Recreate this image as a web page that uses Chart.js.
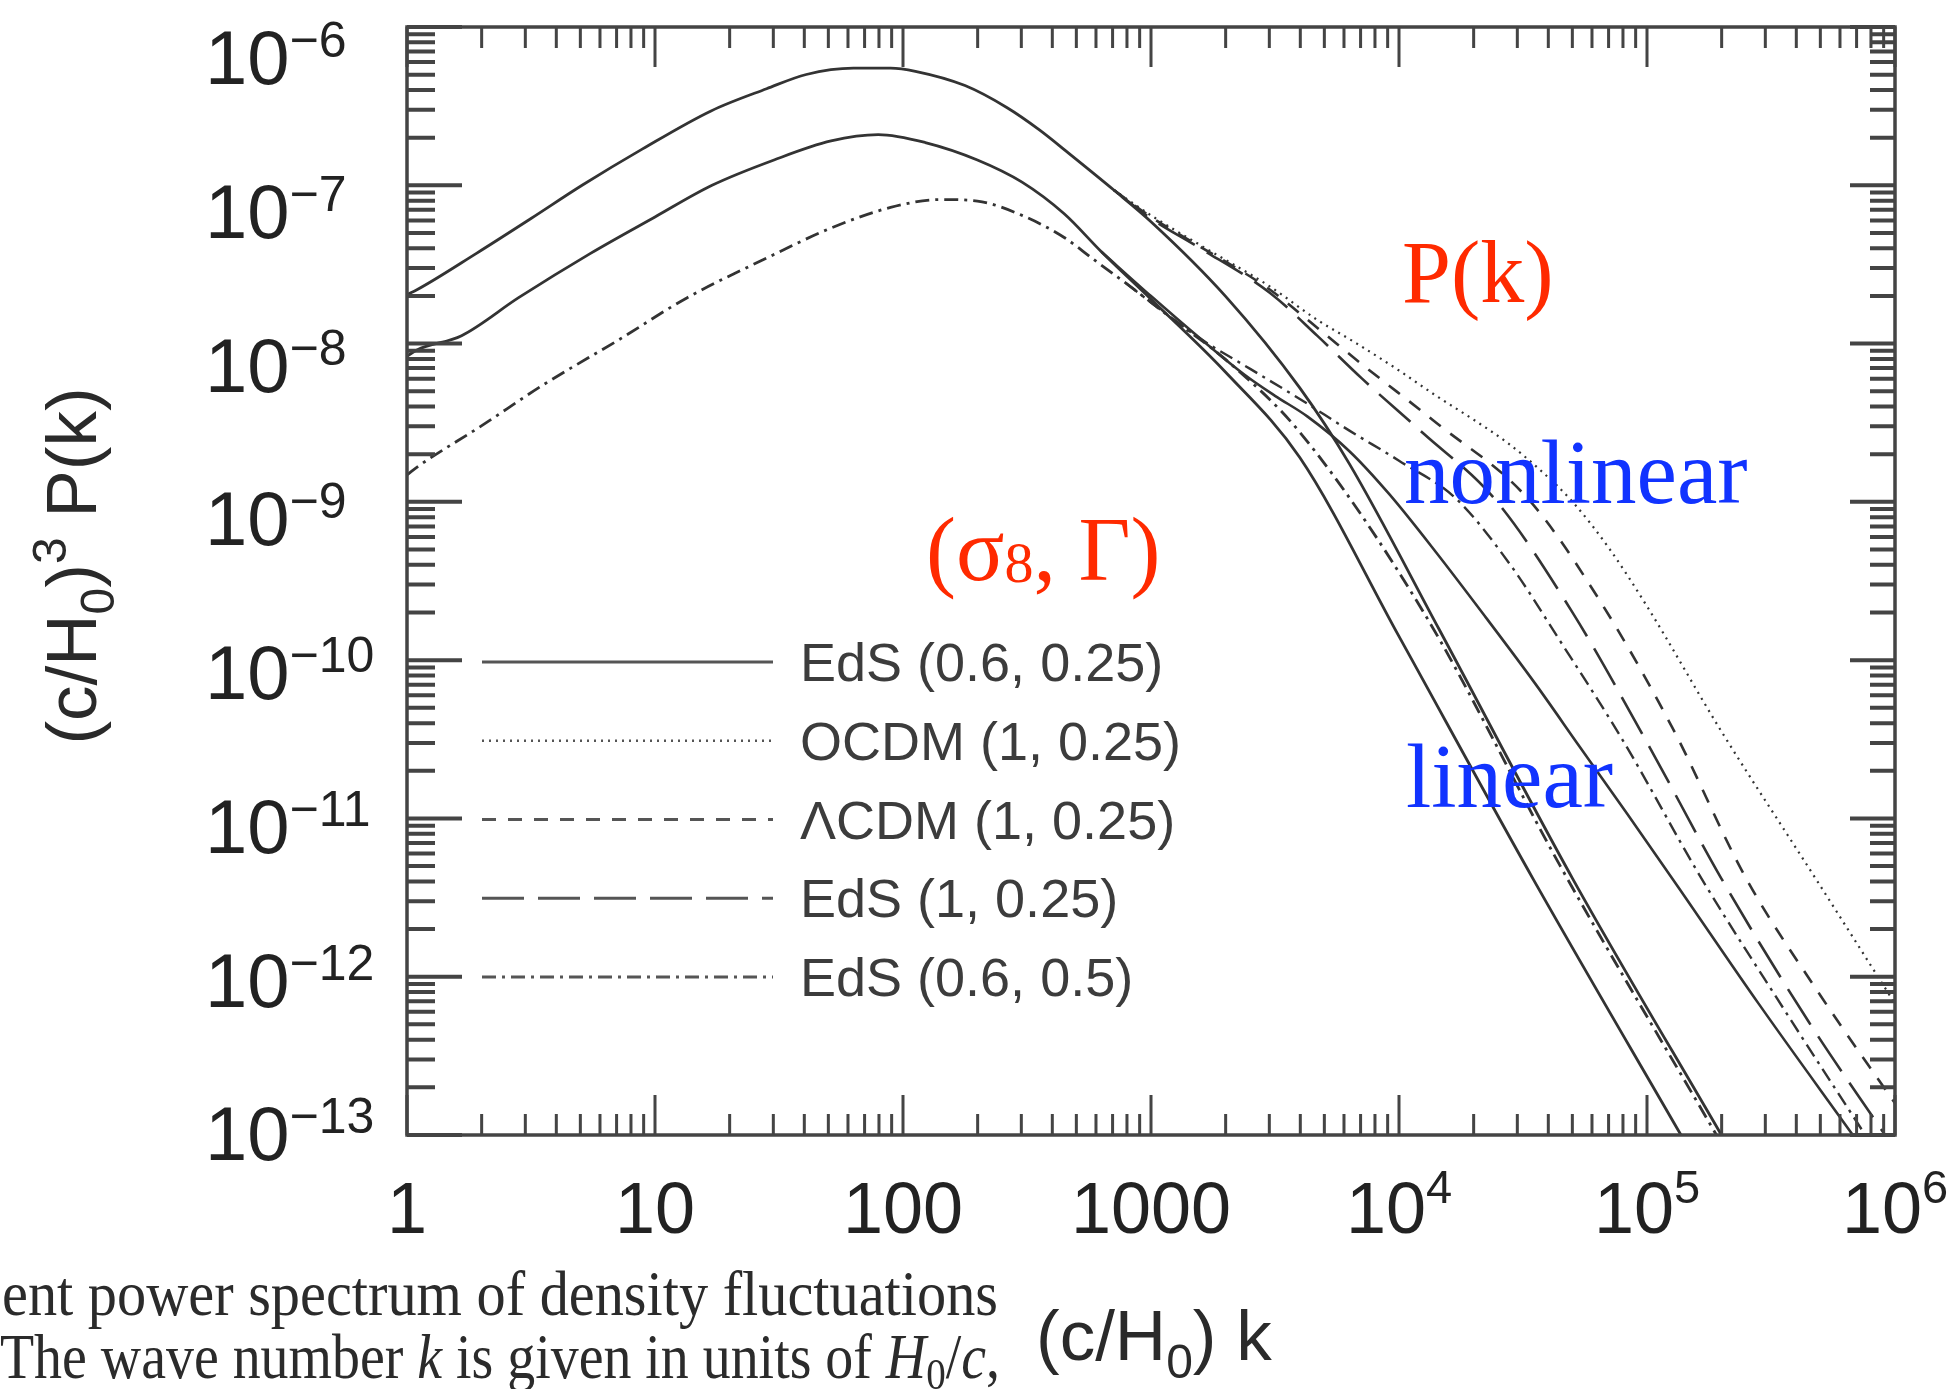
<!DOCTYPE html>
<html>
<head>
<meta charset="utf-8">
<title>Power spectrum P(k)</title>
<script src="https://cdn.jsdelivr.net/npm/chart.js@4.4.1/dist/chart.umd.min.js"></script>
<style>
  html, body { margin: 0; padding: 0; background: #fff; }
  #wrap { position: relative; width: 1949px; height: 1389px; }
</style>
</head>
<body>
<div id="wrap"><canvas id="pk"></canvas></div>
<script>
/* Values: log10 of (c/H0) k and log10 of (c/H0)^3 P(k) */

// linear spectra
// sigma8 = 1, Gamma = 0.25 (OCDM, LCDM and EdS share it)
const kLinS1 = [0, 0.04, 0.28, 0.5, 0.706, 0.95, 1.226, 1.45, 1.61, 1.8, 1.95, 2.05, 2.25, 2.42, 2.55, 2.67, 2.85, 3.0, 3.3, 3.6, 3.8, 4.16, 4.7, 5.3];
const pLinS1 = [-7.69, -7.66, -7.43, -7.21, -7.0, -6.77, -6.53, -6.39, -6.30, -6.26, -6.26, -6.28, -6.37, -6.51, -6.65, -6.80, -7.03, -7.23, -7.70, -8.28, -8.76, -9.8, -11.38, -13.0];
// EdS (0.6, 0.25)
const kLinE06 = [0, 0.04, 0.22, 0.45, 0.74, 1.0, 1.23, 1.48, 1.71, 1.9, 2.09, 2.3, 2.48, 2.65, 2.8, 3.0, 3.3, 3.6, 4.0, 4.54, 5.137];
const pLinE06 = [-8.08, -8.04, -7.95, -7.71, -7.43, -7.2, -7.0, -6.84, -6.72, -6.68, -6.73, -6.84, -6.98, -7.18, -7.42, -7.72, -8.18, -8.72, -9.85, -11.38, -13.0];
// EdS (0.6, 0.5)
const kLinE05 = [0, 0.05, 0.3, 0.55, 0.85, 1.13, 1.45, 1.71, 1.95, 2.15, 2.3, 2.48, 2.65, 2.77, 2.9, 3.1, 3.3, 3.6, 4.1, 4.65, 5.28];
const pLinE05 = [-8.83, -8.77, -8.52, -8.26, -7.98, -7.71, -7.46, -7.27, -7.14, -7.09, -7.10, -7.19, -7.33, -7.47, -7.62, -7.86, -8.10, -8.56, -9.7, -11.3, -13.0];

// nonlinear spectra (they leave the linear curves near k ~ 700)
const kNlE06 = [2.8, 3.0, 3.2, 3.38, 3.5, 3.63, 3.8, 3.96, 4.15, 4.35, 4.55, 4.73, 4.92, 5.12, 5.45, 5.83];
const pNlE06 = [-7.42, -7.70, -7.97, -8.2, -8.33, -8.46, -8.68, -8.95, -9.32, -9.73, -10.15, -10.55, -10.97, -11.42, -12.17, -13.0];
const kNlOCDM = [2.85, 3.0, 3.19, 3.48, 3.67, 3.83, 4.0, 4.15, 4.3, 4.44, 4.57, 4.7, 4.85, 5.0, 5.3, 5.68, 6.0];
const pNlOCDM = [-7.03, -7.19, -7.37, -7.64, -7.85, -8.0, -8.17, -8.33, -8.48, -8.63, -8.8, -9.0, -9.3, -9.66, -10.45, -11.38, -12.17];
const kNlLCDM = [2.85, 3.0, 3.19, 3.48, 3.67, 3.85, 4.15, 4.52, 4.8, 5.1, 5.4, 5.7, 6.0];
const pNlLCDM = [-7.03, -7.2, -7.38, -7.66, -7.9, -8.13, -8.5, -8.98, -9.6, -10.42, -11.38, -12.12, -12.8];
const kNlE1 = [2.85, 3.0, 3.19, 3.48, 3.67, 3.85, 4.1, 4.385, 4.7, 5.0, 5.3, 5.65, 5.96];
const pNlE1 = [-7.03, -7.21, -7.39, -7.68, -7.95, -8.22, -8.57, -8.98, -9.7, -10.52, -11.38, -12.28, -13.0];
const kNlE05 = [2.9, 3.0, 3.2, 3.4, 3.6, 3.8, 4.0, 4.23, 4.45, 4.65, 4.9, 5.22, 5.55, 5.88];
const pNlE05 = [-7.62, -7.74, -7.97, -8.16, -8.35, -8.55, -8.74, -8.98, -9.4, -9.88, -10.5, -11.38, -12.2, -13.0];

const legendLabels = ['EdS (0.6, 0.25)', 'OCDM (1, 0.25)', '\u039BCDM (1, 0.25)', 'EdS (1, 0.25)', 'EdS (0.6, 0.5)'];

const xTickValues = [1, 10, 100, 1000, 1e4, 1e5, 1e6];
const xTickLabels = [['1', ''], ['10', ''], ['100', ''], ['1000', ''], ['10', '4'], ['10', '5'], ['10', '6']];
const yTickValues = [1e-6, 1e-7, 1e-8, 1e-9, 1e-10, 1e-11, 1e-12, 1e-13];
const yTickLabels = [['10', '\u22126'], ['10', '\u22127'], ['10', '\u22128'], ['10', '\u22129'],
                     ['10', '\u221210'], ['10', '\u221211'], ['10', '\u221212'], ['10', '\u221213']];

// ---- styling ----
const INK = '#333';
const SANS = '"Liberation Sans", Arial, Helvetica, sans-serif';
const SERIF = '"Liberation Serif", "Times New Roman", Times, serif';
const DASH = {
  solid: [],
  dotted: [2, 5],
  short: [14, 12],
  long: [42, 14],
  dashdot: [14, 6, 3, 6]
};

function pts(lk, lp) {
  return lk.map((v, i) => ({ x: Math.pow(10, v), y: Math.pow(10, lp[i]) }));
}

function line(label, lk, lp, dash, width) {
  return {
    label,
    data: pts(lk, lp),
    showLine: true,
    borderColor: INK,
    borderWidth: width,
    borderDash: dash,
    pointRadius: 0,
    fill: false,
    cubicInterpolationMode: 'monotone'
  };
}

// draw text pieces one after another (for sub/superscripts)
function runs(ctx, x, y, parts, align) {
  let w = 0;
  parts.forEach(p => { ctx.font = p.f; w += ctx.measureText(p.t).width; });
  if (align === 'center') x -= w / 2;
  else if (align === 'right') x -= w;
  parts.forEach(p => {
    ctx.font = p.f;
    ctx.fillText(p.t, x, y + (p.dy || 0));
    x += ctx.measureText(p.t).width;
  });
  return w;
}

function fitRuns(ctx, x, y, parts, target) {
  let w = 0;
  parts.forEach(p => { ctx.font = p.f; w += ctx.measureText(p.t).width; });
  ctx.save();
  ctx.translate(x, y);
  ctx.scale(target / w, 1);
  runs(ctx, 0, 0, parts);
  ctx.restore();
}

const decor = {
  id: 'decor',
  afterDatasetsDraw(chart) {
    const ctx = chart.ctx;
    const a = chart.chartArea;
    const xs = chart.scales.x, ys = chart.scales.y;

    ctx.save();
    ctx.strokeStyle = '#444';
    ctx.setLineDash([]);

    // frame
    ctx.lineWidth = 3.5;
    ctx.strokeRect(a.left, a.top, a.right - a.left, a.bottom - a.top);

    // x ticks, inward on bottom and top
    ctx.lineWidth = 3;
    for (let d = 0; d < xTickValues.length; d++) {
      for (let m = 1; m <= 9; m++) {
        if (d === xTickValues.length - 1 && m > 1) break;
        const px = xs.getPixelForValue(m * xTickValues[d]);
        const len = m === 1 ? 40 : 21;
        ctx.beginPath();
        ctx.moveTo(px, a.bottom); ctx.lineTo(px, a.bottom - len);
        ctx.moveTo(px, a.top); ctx.lineTo(px, a.top + len);
        ctx.stroke();
      }
    }
    // y ticks, inward on left and right
    ctx.lineWidth = 4;
    for (let d = 0; d < yTickValues.length; d++) {
      for (let m = 1; m <= 9; m++) {
        if (d === 0 && m > 1) break;
        const py = ys.getPixelForValue(m * yTickValues[d]);
        const major = m === 1;
        ctx.beginPath();
        ctx.moveTo(a.left, py); ctx.lineTo(a.left + (major ? 55 : 28), py);
        ctx.moveTo(a.right, py); ctx.lineTo(a.right - (major ? 45 : 25), py);
        ctx.stroke();
      }
    }

    // tick labels
    ctx.fillStyle = '#222';
    ctx.textBaseline = 'alphabetic';
    xTickValues.forEach((v, i) => {
      const px = xs.getPixelForValue(v);
      const [b, e] = xTickLabels[i];
      runs(ctx, px, 1233, [
        { t: b, f: `72px ${SANS}` },
        { t: e, f: `47px ${SANS}`, dy: -30 }
      ], 'center');
    });
    yTickValues.forEach((v, i) => {
      const py = ys.getPixelForValue(v);
      const base = py + 57 - 0.0285 * (py - a.top);
      const [b, e] = yTickLabels[i];
      runs(ctx, 205, base, [
        { t: b, f: `76px ${SANS}` },
        { t: e, f: `50px ${SANS}`, dy: -27 }
      ]);
    });

    // axis titles
    ctx.fillStyle = '#2a2a2a';
    runs(ctx, 1036, 1360, [
      { t: '(c/H', f: `71px ${SANS}` },
      { t: '0', f: `48px ${SANS}`, dy: 18 },
      { t: ') k', f: `71px ${SANS}` }
    ]);
    ctx.save();
    ctx.translate(96, 566);
    ctx.rotate(-Math.PI / 2);
    runs(ctx, 0, 0, [
      { t: '(c/H', f: `71px ${SANS}` },
      { t: '0', f: `48px ${SANS}`, dy: 18 },
      { t: ')', f: `71px ${SANS}` },
      { t: '3', f: `48px ${SANS}`, dy: -30 },
      { t: ' P(k)', f: `71px ${SANS}` }
    ], 'center');
    ctx.restore();

    // legend
    const lx0 = a.left + 75, lx1 = a.left + 366, tx = a.left + 393;
    const styles = [DASH.solid, DASH.dotted, DASH.short, DASH.long, DASH.dashdot];
    legendLabels.forEach((lab, i) => {
      const y = a.top + 635 + i * 78.75;
      ctx.strokeStyle = '#555';
      ctx.lineWidth = i === 1 ? 2.5 : 3;
      ctx.setLineDash(styles[i]);
      ctx.beginPath();
      ctx.moveTo(lx0, y); ctx.lineTo(lx1, y);
      ctx.stroke();
      ctx.setLineDash([]);
      ctx.fillStyle = '#3c3c3c';
      ctx.font = `54px ${SANS}`;
      ctx.fillText(lab, tx, y + 19);
    });

    // annotations
    ctx.fillStyle = '#ff2a00';
    ctx.font = `88px ${SERIF}`;
    ctx.fillText('P(k)', 1402, 302);
    runs(ctx, 926, 580, [
      { t: '(\u03C3', f: `90px ${SERIF}` },
      { t: '8', f: `58px ${SERIF}`, dy: 2 },
      { t: ', \u0393)', f: `90px ${SERIF}` }
    ]);
    ctx.fillStyle = '#1133ff';
    ctx.font = `91px ${SERIF}`;
    ctx.fillText('nonlinear', 1404, 503);
    ctx.fillText('linear', 1406, 807);

    // caption fragment
    ctx.fillStyle = '#2b2b2b';
    fitRuns(ctx, 2, 1315, [
      { t: 'ent power spectrum of density fluctuations', f: `63px ${SERIF}` }
    ], 996);
    fitRuns(ctx, 0, 1378, [
      { t: 'The wave number ', f: `63px ${SERIF}` },
      { t: 'k', f: `italic 63px ${SERIF}` },
      { t: ' is given in units of ', f: `63px ${SERIF}` },
      { t: 'H', f: `italic 63px ${SERIF}` },
      { t: '0', f: `44px ${SERIF}`, dy: 11 },
      { t: '/', f: `63px ${SERIF}` },
      { t: 'c', f: `italic 63px ${SERIF}` },
      { t: ',', f: `63px ${SERIF}` }
    ], 1000);

    ctx.restore();
  }
};

new Chart(document.getElementById('pk'), {
  type: 'scatter',
  data: {
    datasets: [
      line('linear sigma8=1 Gamma=0.25', kLinS1, pLinS1, DASH.solid, 2.8),
      line('linear EdS (0.6, 0.25)', kLinE06, pLinE06, DASH.solid, 2.8),
      line('linear EdS (0.6, 0.5)', kLinE05, pLinE05, DASH.dashdot, 2.8),
      line(legendLabels[0], kNlE06, pNlE06, DASH.solid, 2.6),
      line(legendLabels[1], kNlOCDM, pNlOCDM, DASH.dotted, 2.2),
      line(legendLabels[2], kNlLCDM, pNlLCDM, DASH.short, 2.6),
      line(legendLabels[3], kNlE1, pNlE1, DASH.long, 2.6),
      line(legendLabels[4], kNlE05, pNlE05, DASH.dashdot, 2.4)
    ]
  },
  options: {
    responsive: true,
    maintainAspectRatio: false,
    devicePixelRatio: 1,
    animation: false,
    layout: { padding: { left: 407, top: 27, right: 54, bottom: 254 } },
    plugins: {
      legend: { display: false },
      tooltip: { enabled: false }
    },
    scales: {
      x: { type: 'logarithmic', min: 1, max: 1e6, display: false },
      y: { type: 'logarithmic', min: 1e-13, max: 1e-6, display: false }
    }
  },
  plugins: [decor]
});
</script>
</body>
</html>
